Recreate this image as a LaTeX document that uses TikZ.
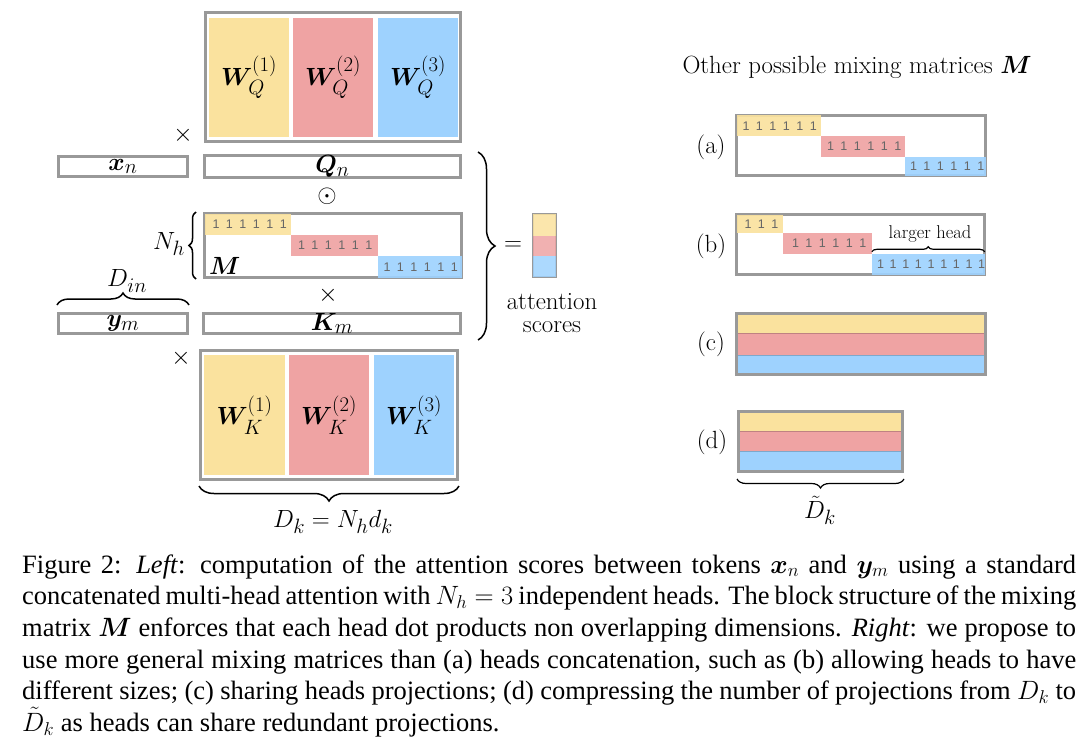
\RequirePackage{fix-cm}
\documentclass[tikz,border=0pt]{standalone}
\usepackage{amsmath,bm}
\usepackage{fontspec}
\newfontfamily\capfont{Liberation Serif}
\newfontfamily\onesfont{Liberation Sans}
\usetikzlibrary{decorations.pathreplacing,calc}
\definecolor{yel}{RGB}{250,226,158}
\definecolor{pnk}{RGB}{239,163,163}
\definecolor{blu}{RGB}{158,210,254}
\definecolor{bgrey}{RGB}{153,153,153}
\newcommand\rbox[7]{\node[#6,inner sep=0pt,minimum width={(#4-#2)*1pt},minimum height={(#5-#3)*1pt}] (#1) at ({(#2+#4)/2},{(#3+#5)/2}) {#7};}
\newcommand\og{\hspace{6.5pt}}
\newcommand\oh{\hspace{5.7pt}}
\newcommand\sixones{1\og1\og1\og1\og1\og1}
\begin{document}
\begin{tikzpicture}[x=1pt,y=-1pt,
  font=\fontsize{24.88}{29}\selectfont,
  frame/.style={draw=bgrey,line width=3pt},
  vframe/.style={draw=bgrey,line width=2pt},
  blk/.style={fill=#1,fill opacity=0.92,draw=none},
  stripe/.style={fill=#1,draw=#1!80!black,line width=0.8pt},
  onestxt/.style={font=\onesfont\fontsize{12.5}{14}\selectfont,text=black!60,inner sep=0pt,anchor=west},
  brc/.style={decorate,decoration={brace,amplitude=#1},line width=1.5pt},
  brc/.default=10,
  lbl/.style={inner sep=0pt}]
\useasboundingbox (0,0) rectangle (1091,741);

% ---------- W_Q ----------
\rbox{WQ}{205.5}{12.5}{460.5}{141.5}{frame}{}
\rbox{WQa}{209}{18}{289}{137}{fill=yel}{$\bm{W}_Q^{(1)}$}
\rbox{WQb}{293}{18}{373}{137}{fill=pnk}{$\bm{W}_Q^{(2)}$}
\rbox{WQc}{378}{18}{458}{137}{fill=blu}{$\bm{W}_Q^{(3)}$}
\node[lbl] (t1) at (183,135) {$\times$};

% ---------- x_n, Q_n ----------
\rbox{xn}{58.5}{156.5}{187.5}{176.5}{frame}{$\bm{x}_n$}
\rbox{Qn}{204.5}{156.5}{460.5}{176.5}{frame}{$\bm{Q}_n$}
\node[lbl] (odot) at (327,196) {$\odot$};

% ---------- M ----------
\rbox{M}{204.5}{213.5}{461.5}{277.5}{frame}{}
\rbox{Ma}{204.5}{213.5}{291}{234.5}{blk=yel}{}
\rbox{Mb}{291}{234.5}{377.5}{256}{blk=pnk}{}
\rbox{Mc}{377.5}{256}{461.5}{277.5}{blk=blu}{}
\node[onestxt] (Ma1) at ($(Ma.west)+(8,0)$) {\sixones};
\node[onestxt] (Mb1) at ($(Mb.west)+(7,0)$) {\sixones};
\node[onestxt] (Mc1) at ($(Mc.west)+(6,0)$) {\sixones};
\node[lbl,anchor=west] (Mlab) at (209,266) {$\bm{M}$};
\draw[brc=7] ($(M.south west)+(-7,0)$) -- ($(M.north west)+(-7,0)$);
\node[lbl] (Nh) at (169,244) {$N_h$};
\node[lbl] (t2) at (328,295) {$\times$};

% ---------- y_m, K_m ----------
\rbox{ym}{58.5}{313.5}{187.5}{333.5}{frame}{$\bm{y}_m$}
\rbox{Km}{203.5}{313.5}{460.5}{333.5}{frame}{$\bm{K}_m$}
\draw[brc=12] ($(ym.north west)+(0,-7)$) -- ($(ym.north east)+(0,-7)$);
\node[lbl] (Din) at (127,281) {$D_{in}$};

% ---------- W_K ----------
\rbox{WK}{200.5}{350.5}{457.5}{479.5}{frame}{}
\rbox{WKa}{204}{355}{285}{475}{fill=yel}{$\bm{W}_K^{(1)}$}
\rbox{WKb}{289}{355}{369}{475}{fill=pnk}{$\bm{W}_K^{(2)}$}
\rbox{WKc}{374}{355}{454}{475}{fill=blu}{$\bm{W}_K^{(3)}$}
\node[lbl] (t3) at (181,358) {$\times$};
\draw[brc=15] ($(WK.south east)+(0,5)$) -- ($(WK.south west)+(0,5)$);
\node[lbl] (Dk) at (333,522) {$D_k = N_h d_k$};

% ---------- big brace and result ----------
\coordinate (bt) at (478,152);
\coordinate (bb) at (478,340);
\draw[brc=17] (bt) -- (bb);
\node[lbl] (eq) at (513,246) {$=$};
\rbox{S}{533}{214}{556}{277}{vframe}{}
\rbox{Sa}{533}{214}{556}{235.5}{blk=yel,fill opacity=0.85}{}
\rbox{Sb}{533}{235.5}{556}{256}{blk=pnk,fill opacity=0.85}{}
\rbox{Sc}{533}{256}{556}{277}{blk=blu,fill opacity=0.85}{}
\node[lbl,align=center,font=\fontsize{24.88}{22.5}\selectfont] (att) at (552,313) {attention\\scores};

% ---------- right: title ----------
\node[lbl] (title) at (857,67) {Other possible mixing matrices $\bm{M}$};

% (a)
\rbox{A}{736.5}{115.5}{985.5}{175.5}{frame}{}
\rbox{Aa}{736.5}{115.5}{821}{136}{blk=yel}{}
\rbox{Ab}{821}{136}{905}{157}{blk=pnk}{}
\rbox{Ac}{905}{157}{985.5}{175.5}{blk=blu}{}
\node[onestxt] (Aa1) at ($(Aa.west)+(6,0)$) {\sixones};
\node[onestxt] (Ab1) at ($(Ab.west)+(6,0)$) {\sixones};
\node[onestxt] (Ac1) at ($(Ac.west)+(5,0)$) {\sixones};
\node[lbl] (la) at (711,147) {(a)};

% (b)
\rbox{B}{736.5}{214.5}{984.5}{274.5}{frame}{}
\rbox{Ba}{736.5}{214.5}{783}{233}{blk=yel}{}
\rbox{Bb}{783}{233}{872}{254}{blk=pnk}{}
\rbox{Bc}{872}{254}{984.5}{274.5}{blk=blu}{}
\node[onestxt] (Ba1) at ($(Ba.west)+(8,0)$) {1\og1\og1};
\node[onestxt] (Bb1) at ($(Bb.west)+(9,0)$) {\sixones};
\node[onestxt] (Bc1) at ($(Bc.west)+(5,0)$) {1\oh1\oh1\oh1\oh1\oh1\oh1\oh1\oh1};
\draw[brc=5,line width=1.2pt] ($(Bc.north west)+(0,-2)$) -- ($(Bc.north east)+(0,-2)$);
\node[lbl,font=\fontsize{18.5}{22}\selectfont] (lh) at (930,234) {larger head};
\node[lbl] (lb) at (711,246) {(b)};

% (c)
\rbox{Ca}{736.5}{313.5}{985.5}{333}{stripe=yel}{}
\rbox{Cb}{736.5}{333}{985.5}{355}{stripe=pnk}{}
\rbox{Cc}{736.5}{355}{985.5}{374.5}{stripe=blu}{}
\rbox{C}{736.5}{313.5}{985.5}{374.5}{frame}{}
\node[lbl] (lc) at (711,344) {(c)};

% (d)
\rbox{Da}{738.5}{411.5}{902.5}{431}{stripe=yel}{}
\rbox{Db}{738.5}{431}{902.5}{451}{stripe=pnk}{}
\rbox{Dc}{738.5}{451}{902.5}{471.5}{stripe=blu}{}
\rbox{D}{738.5}{411.5}{902.5}{471.5}{frame}{}
\node[lbl] (ld) at (712,442) {(d)};
\draw[brc=9,line width=1.2pt] ($(D.south east)+(0,6)$) -- ($(D.south west)+(0,6)$);
\node[lbl] (Dt) at (820,510) {$\tilde{D}_k$};

% ---------- caption ----------
\node[anchor=base west,inner sep=0pt,font=\capfont\fontsize{26.5}{31.7}\selectfont] (cap) at (22,573)
{\parbox[t]{1054pt}{%
\makebox[\linewidth][s]{Figure 2: \textit{Left}: computation of the attention scores between tokens $\bm{x}_n$ and $\bm{y}_m$ using a standard}\\
\makebox[\linewidth][s]{concatenated multi-head attention with $N_h = 3$ independent heads. The block structure of the mixing}\\
\makebox[\linewidth][s]{matrix $\bm{M}$ enforces that each head dot products non overlapping dimensions. \textit{Right}: we propose to}\\
\makebox[\linewidth][s]{use more general mixing matrices than (a) heads concatenation, such as (b) allowing heads to have}\\
\makebox[\linewidth][s]{different sizes; (c) sharing heads projections; (d) compressing the number of projections from $D_k$ to}\\
$\tilde{D}_k$ as heads can share redundant projections.}};
\end{tikzpicture}
\end{document}
